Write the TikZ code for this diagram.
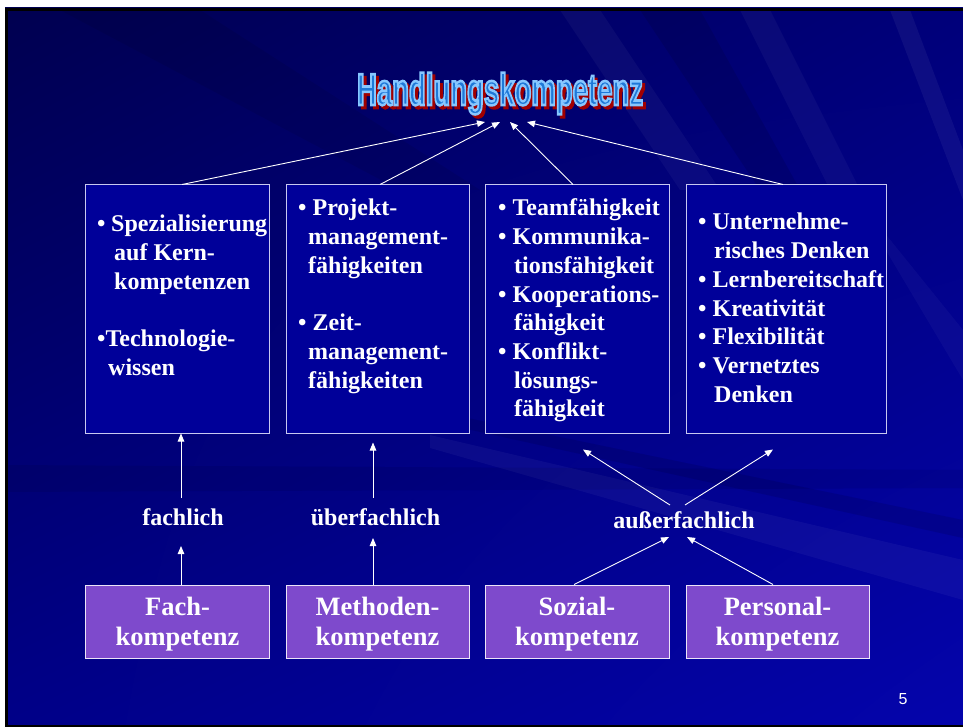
\documentclass[tikz,border=0pt]{standalone}
\usepackage{fontspec}
\setmainfont{Liberation Serif}
\newfontfamily\arialfont{Liberation Sans}
\usetikzlibrary{arrows.meta,calc,shadings}
\definecolor{boxblue}{HTML}{000099}
\definecolor{boxline}{HTML}{C8C8F0}
\definecolor{purp}{HTML}{7E4ACC}
\definecolor{ttlfill}{HTML}{1E78D8}
\definecolor{ttlshadow}{HTML}{A00000}
\definecolor{bgA}{HTML}{000050}
\definecolor{bgB}{HTML}{00007A}
\definecolor{bgC}{HTML}{000088}
\definecolor{bgD}{HTML}{0404AC}
\newcommand\ttlword{\scalebox{0.616}[1]{\arialfont\fontsize{44.7pt}{44.7pt}\selectfont\bfseries Handlungskompetenz}}
\tikzset{
  arr/.style={draw=white, line width=0.9pt, -{Triangle[length=8pt,width=6.5pt]}},
  topbox/.style={draw=boxline, line width=1pt, fill=boxblue, inner sep=0pt, minimum height=248pt},
  botbox/.style={draw=white!85!purp, line width=1pt, fill=purp, inner sep=0pt, minimum height=73pt},
  bottext/.style={anchor=base, inner sep=0pt, text=white, font=\bfseries\fontsize{26.5pt}{30pt}\selectfont},
  boxtext/.style={anchor=base west, inner sep=0pt, text=white, font=\bfseries\fontsize{24pt}{28.7pt}\selectfont},
  lbl/.style={anchor=base, inner sep=0pt, text=white, font=\bfseries\fontsize{24pt}{28.7pt}\selectfont}
}
\begin{document}
\begin{tikzpicture}[x=1pt,y=-1pt]
\useasboundingbox (0,0) rectangle (963,727);
% background
\fill[white] (0,0) rectangle (963,727);
\shade[upper left=bgA, upper right=bgB, lower left=bgC, lower right=bgD] (5,8) rectangle (963,727);
\begin{scope}
\clip (5,8) rectangle (963,727);
\fill[white,opacity=0.045] (430,435) -- (963,560) -- (963,600) -- (430,448) -- cycle;
\fill[black,opacity=0.10] (380,400) -- (963,520) -- (963,538) -- (380,410) -- cycle;
\fill[black,opacity=0.07] (0,465) -- (963,470) -- (963,488) -- (0,492) -- cycle;
\fill[white,opacity=0.04] (560,10) -- (600,10) -- (720,190) -- (680,190) -- cycle;
\fill[white,opacity=0.04] (740,10) -- (770,10) -- (860,190) -- (830,190) -- cycle;
\fill[white,opacity=0.05] (890,10) -- (910,10) -- (963,150) -- (963,200) -- cycle;
\fill[black,opacity=0.10] (640,10) -- (700,10) -- (800,190) -- (760,190) -- cycle;
\fill[black,opacity=0.08] (60,10) -- (200,10) -- (480,190) -- (400,190) -- cycle;
\fill[white,opacity=0.035] (850,190) -- (963,330) -- (963,380) -- cycle;
\end{scope}
% slide border
\draw[black, line width=3pt] (6.5,727) -- (6.5,9.5) -- (963,9.5);
\draw[black, line width=2pt] (5,726) -- (963,726);

% title (shadow + outlined fill)
\node[anchor=base, inner sep=0pt] (title) at (500,105) {%
  \rlap{\hspace*{3pt}\raisebox{-3pt}{\color{ttlshadow}\special{pdf:literal direct 0.63 0 0 RG 2 Tr 2.6 w}\ttlword\special{pdf:literal direct 0 Tr}}}%
  {\color{ttlfill}\special{pdf:literal direct 0.53 0.78 1 RG 2 Tr 2.6 w}\ttlword\special{pdf:literal direct 0 Tr}}};

% top boxes
\node[topbox, minimum width=184pt] (b1) at (177,309) {};
\node[topbox, minimum width=183pt] (b2) at (377.5,309) {};
\node[topbox, minimum width=184pt] (b3) at (577,309) {};
\node[topbox, minimum width=200pt] (b4) at (786,309) {};

\node[boxtext] (t1) at (97,232) {\parbox[t]{170pt}{%
  • Spezialisierung\\
  \hspace*{17pt}auf Kern-\\
  \hspace*{17pt}kompetenzen\\[28.7pt]
  •Technologie-\\
  \hspace*{11pt}wissen}};
\node[boxtext] (t2) at (298,216) {\parbox[t]{170pt}{%
  • Projekt-\\
  \hspace*{10pt}management-\\
  \hspace*{10pt}fähigkeiten\\[28.7pt]
  • Zeit-\\
  \hspace*{10pt}management-\\
  \hspace*{10pt}fähigkeiten}};
\node[boxtext] (t3) at (498,216) {\parbox[t]{170pt}{%
  • Teamfähigkeit\\
  • Kommunika-\\
  \hspace*{16pt}tionsfähigkeit\\
  • Kooperations-\\
  \hspace*{16pt}fähigkeit\\
  • Konflikt-\\
  \hspace*{16pt}lösungs-\\
  \hspace*{16pt}fähigkeit}};
\node[boxtext] (t4) at (698,230) {\parbox[t]{190pt}{%
  • Unternehme-\\
  \hspace*{16pt}risches Denken\\
  • Lernbereitschaft\\
  • Kreativität\\
  • Flexibilität\\
  • Vernetztes\\
  \hspace*{16pt}Denken}};

% bottom boxes
\node[botbox, minimum width=184pt] (f1) at (177,621.5) {};
\node[botbox, minimum width=183pt] (f2) at (377.5,621.5) {};
\node[botbox, minimum width=184pt] (f3) at (577,621.5) {};
\node[botbox, minimum width=183pt] (f4) at (777.5,621.5) {};
\node[bottext] (ft1) at (177.5,615) {\parbox[t]{184pt}{\centering Fach-\\kompetenz}};
\node[bottext] (ft2) at (377.5,615) {\parbox[t]{184pt}{\centering Methoden-\\kompetenz}};
\node[bottext] (ft3) at (577,615) {\parbox[t]{184pt}{\centering Sozial-\\kompetenz}};
\node[bottext] (ft4) at (777.5,615) {\parbox[t]{184pt}{\centering Personal-\\kompetenz}};

% labels
\node[lbl] (l1) at (183,525) {fachlich};
\node[lbl] (l2) at (375.5,525) {überfachlich};
\node[lbl] (l3) at (684,528) {außerfachlich};

% arrows to title
\draw[arr] ([xshift=5pt]b1.north) -- ([xshift=-15pt,yshift=-17pt]title.base);
\draw[arr] ([xshift=2.5pt]b2.north) -- ([yshift=-17pt]title.base);
\draw[arr] ([xshift=-4pt]b3.north) -- ([xshift=10pt,yshift=-17pt]title.base);
\draw[arr] ([xshift=-3pt]b4.north) -- ([xshift=27pt,yshift=-17pt]title.base);

% fachlich
\draw[arr] ([xshift=4pt]f1.north) -- ([xshift=-2pt,yshift=-21pt]l1.base);
\draw[arr] ([xshift=-2pt,yshift=27pt]l1.base) -- ([xshift=4pt]b1.south);
% ueberfachlich
\draw[arr] ([xshift=-4.5pt]f2.north) -- ([xshift=-2.5pt,yshift=-13pt]l2.base);
\draw[arr] ([xshift=-2.5pt,yshift=27pt]l2.base) -- ([xshift=-4.5pt,yshift=-9pt]b2.south);
% ausserfachlich
\draw[arr] ([xshift=-14pt,yshift=23pt]l3.base) -- ([xshift=6pt,yshift=-16pt]b3.south);
\draw[arr] ([xshift=1pt,yshift=23pt]l3.base) -- ([xshift=-13pt,yshift=-16pt]b4.south);
\draw[arr] ([xshift=-3pt]f3.north) -- ([xshift=-15pt,yshift=-9pt]l3.base);
\draw[arr] ([xshift=-4.5pt]f4.north) -- ([xshift=3pt,yshift=-9pt]l3.base);

% page number
\node[text=white, font=\arialfont\fontsize{16pt}{16pt}\selectfont, inner sep=0pt] (pg) at (903,699) {5};
\end{tikzpicture}
\end{document}
